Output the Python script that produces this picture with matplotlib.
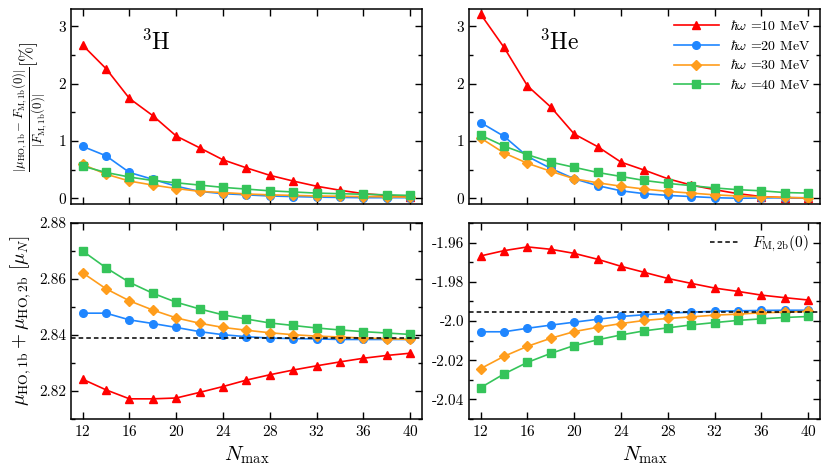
import numpy as np
import matplotlib
matplotlib.use('Agg')
import matplotlib.pyplot as plt
from matplotlib.ticker import MultipleLocator

plt.rcParams['font.family'] = 'serif'
plt.rcParams['font.serif'] = ['cmr10', 'DejaVu Serif']
plt.rcParams['mathtext.fontset'] = 'cm'
plt.rcParams['axes.unicode_minus'] = False
plt.rcParams['axes.formatter.use_mathtext'] = True

nmax = np.arange(12, 41, 2)
hw = [10, 20, 30, 40]
colors = ['#ff0000', '#1f86ff', '#ff9d1c', '#35c45a']
markers = ['^', 'o', 'D', 's']

# 3H relative deviation of 1b part [%]
h3_dev = [
    [2.67, 2.26, 1.74, 1.44, 1.085, 0.88, 0.67, 0.53, 0.40, 0.30, 0.21, 0.14, 0.08, 0.05, 0.02],
    [0.905, 0.74, 0.45, 0.33, 0.21, 0.12, 0.08, 0.06, 0.04, 0.03, 0.02, 0.015, 0.01, 0.01, 0.01],
    [0.59, 0.42, 0.30, 0.23, 0.17, 0.12, 0.10, 0.075, 0.06, 0.05, 0.04, 0.035, 0.03, 0.025, 0.02],
    [0.56, 0.45, 0.37, 0.31, 0.27, 0.23, 0.19, 0.16, 0.13, 0.11, 0.09, 0.08, 0.07, 0.06, 0.05],
]
# 3He relative deviation of 1b part [%]
he3_dev = [
    [3.21, 2.63, 1.96, 1.59, 1.12, 0.90, 0.63, 0.49, 0.34, 0.23, 0.15, 0.08, 0.03, 0.01, 0.005],
    [1.32, 1.08, 0.73, 0.52, 0.34, 0.22, 0.13, 0.08, 0.05, 0.03, 0.01, 0.0, 0.005, 0.01, 0.01],
    [1.05, 0.79, 0.61, 0.47, 0.34, 0.27, 0.21, 0.16, 0.12, 0.09, 0.06, 0.04, 0.025, 0.015, 0.005],
    [1.10, 0.91, 0.76, 0.63, 0.54, 0.45, 0.38, 0.31, 0.26, 0.22, 0.18, 0.15, 0.13, 0.10, 0.09],
]
# 3H total magnetic moment [mu_N]
h3_mu = [
    [2.8242, 2.8204, 2.8172, 2.8172, 2.8175, 2.8195, 2.8216, 2.8239, 2.8258, 2.8275, 2.8290, 2.8304, 2.8317, 2.8327, 2.8335],
    [2.8478, 2.8478, 2.8454, 2.8441, 2.8427, 2.8412, 2.8401, 2.8394, 2.8389, 2.8387, 2.8386, 2.8384, 2.8384, 2.8384, 2.8384],
    [2.8622, 2.8565, 2.8522, 2.8489, 2.8461, 2.8442, 2.8427, 2.8417, 2.8408, 2.8401, 2.8396, 2.8393, 2.8389, 2.8387, 2.8384],
    [2.8700, 2.8640, 2.8588, 2.8549, 2.8517, 2.8493, 2.8472, 2.8457, 2.8443, 2.8434, 2.8425, 2.8418, 2.8412, 2.8407, 2.8402],
]
# 3He total magnetic moment [mu_N]
he3_mu = [
    [-1.9668, -1.9641, -1.9622, -1.9634, -1.9655, -1.9685, -1.9721, -1.9752, -1.9783, -1.9808, -1.9832, -1.9849, -1.9868, -1.9881, -1.9893],
    [-2.0055, -2.0055, -2.0037, -2.0021, -2.0006, -1.9991, -1.9977, -1.9968, -1.9960, -1.9955, -1.9950, -1.9948, -1.9946, -1.9945, -1.9945],
    [-2.0243, -2.0180, -2.0129, -2.0088, -2.0054, -2.0032, -2.0013, -1.9997, -1.9987, -1.9979, -1.9970, -1.9965, -1.9958, -1.9955, -1.9951],
    [-2.0340, -2.0270, -2.0211, -2.0165, -2.0125, -2.0096, -2.0071, -2.0050, -2.0035, -2.0020, -2.0008, -1.9997, -1.9989, -1.9982, -1.9977],
]
h3_ref = 2.8388
he3_ref = -1.9953

# tick values and labels
top_yticks = [0, 1, 2, 3]
top_ylabels = ['0', '1', '2', '3']
h3_yticks = [2.82, 2.84, 2.86, 2.88]
h3_ylabels = ['2.82', '2.84', '2.86', '2.88']
he3_yticks = [-2.04, -2.02, -2.00, -1.98, -1.96]
he3_ylabels = ['-2.04', '-2.02', '-2.0', '-1.98', '-1.96']

fig = plt.figure(figsize=(8.3, 4.75), dpi=100)
ax1 = fig.add_axes([0.0855, 0.5705, 0.4229, 0.4105])
ax2 = fig.add_axes([0.565, 0.5705, 0.4229, 0.4105])
ax3 = fig.add_axes([0.0855, 0.1179, 0.4229, 0.4126])
ax4 = fig.add_axes([0.565, 0.1179, 0.4229, 0.4126])

for ax, data in [(ax1, h3_dev), (ax2, he3_dev), (ax3, h3_mu), (ax4, he3_mu)]:
    for i in range(4):
        ax.plot(nmax, data[i], color=colors[i], marker=markers[i], ms=5.5, lw=1.2,
                label=r'$\hbar\omega$ =%d MeV' % hw[i])

ax3.axhline(h3_ref, color='k', ls='--', lw=1.1, dashes=(3, 2))
ax4.axhline(he3_ref, color='k', ls='--', lw=1.1, dashes=(3, 2), label=r'$F_{\rm M,2b}(0)$')

for ax in [ax1, ax2, ax3, ax4]:
    ax.set_xlim(11, 41)
    ax.set_xticks(np.arange(12, 41, 4))
    ax.tick_params(which='both', direction='in', top=True, right=True, labelsize=11, width=1)
    ax.tick_params(which='major', length=5)
    ax.tick_params(which='minor', length=3)
    for s in ax.spines.values():
        s.set_linewidth(1.1)

for ax in [ax1, ax2]:
    ax.set_ylim(-0.1, 3.3)
    ax.set_yticks(top_yticks, top_ylabels)
    ax.yaxis.set_minor_locator(MultipleLocator(0.5))
    ax.tick_params(labelbottom=False)

ax3.set_ylim(2.81, 2.88)
ax3.set_yticks(h3_yticks, h3_ylabels)
ax4.set_ylim(-2.05, -1.95)
ax4.set_yticks(he3_yticks, he3_ylabels)
for ax in [ax3, ax4]:
    ax.yaxis.set_minor_locator(MultipleLocator(0.01))

ax1.text(0.2, 0.83, r'$^3$H', transform=ax1.transAxes, fontsize=17, va='center')
ax2.text(0.2, 0.83, r'$^3$He', transform=ax2.transAxes, fontsize=17, va='center')

ax1.set_ylabel(r'$\frac{|\mu_{\rm HO,1b}-F_{\rm M,1b}(0)|}{|F_{\rm M,1b}(0)|}[\%]$', fontsize=13,
               labelpad=6)
ax3.set_ylabel(r'$\mu_{\rm HO,1b}+\mu_{\rm HO,2b}\ [\mu_N]$', fontsize=14)
ax3.set_xlabel(r'$N_{\rm max}$', fontsize=15)
ax4.set_xlabel(r'$N_{\rm max}$', fontsize=15)

ax2.legend(loc='upper right', frameon=False, fontsize=10, numpoints=1, handlelength=3.2,
           labelspacing=0.42, borderaxespad=0.3)
h, l = ax4.get_legend_handles_labels()
ax4.legend([h[-1]], [l[-1]], loc='upper right', frameon=False, fontsize=11, handlelength=2.0,
           borderaxespad=0.3)

fig.savefig('out.png', dpi=100)
